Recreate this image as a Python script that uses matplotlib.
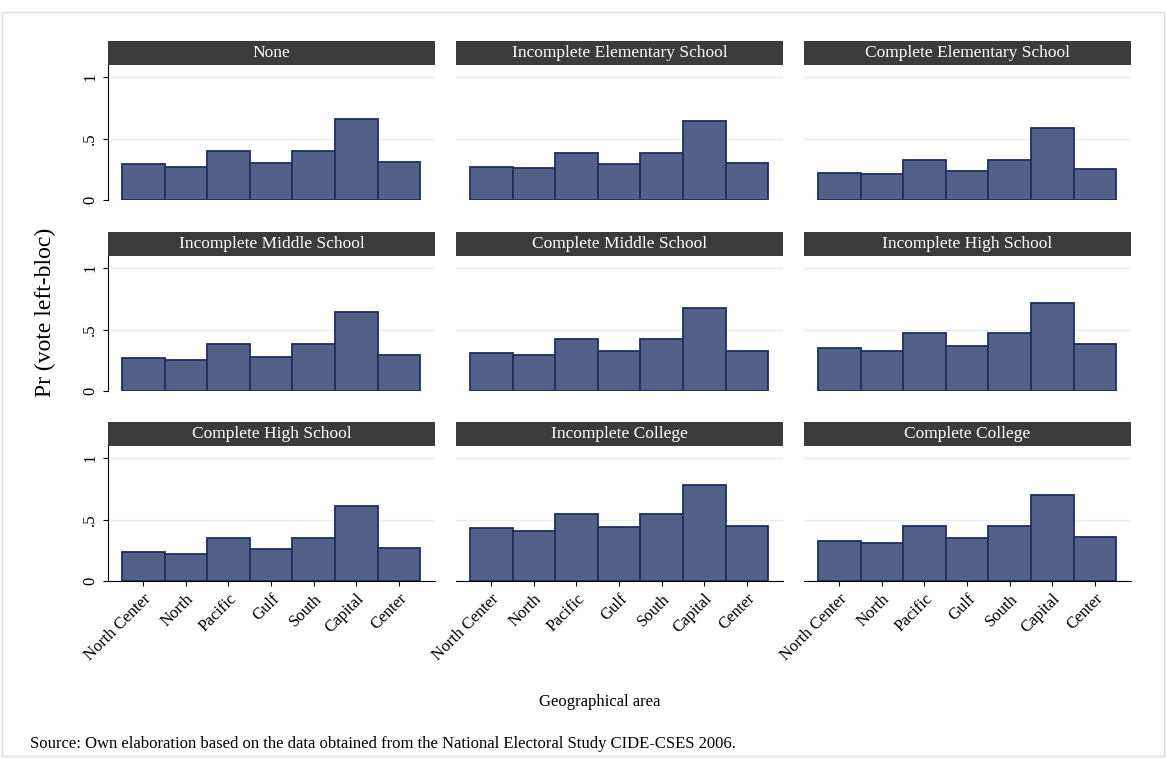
import numpy as np
import matplotlib.pyplot as plt
from matplotlib.patches import Rectangle

plt.rcParams['font.family'] = ['Liberation Serif', 'DejaVu Serif']

areas = ["North Center", "North", "Pacific", "Gulf", "South", "Capital", "Center"]
titles = ["None", "Incomplete Elementary School", "Complete Elementary School",
          "Incomplete Middle School", "Complete Middle School", "Incomplete High School",
          "Complete High School", "Incomplete College", "Complete College"]
values = [
    [0.29, 0.27, 0.40, 0.30, 0.40, 0.66, 0.31],
    [0.27, 0.26, 0.38, 0.29, 0.38, 0.64, 0.30],
    [0.22, 0.21, 0.33, 0.24, 0.33, 0.59, 0.25],
    [0.27, 0.25, 0.38, 0.28, 0.38, 0.64, 0.29],
    [0.31, 0.29, 0.42, 0.33, 0.42, 0.68, 0.33],
    [0.35, 0.33, 0.47, 0.37, 0.47, 0.72, 0.38],
    [0.24, 0.22, 0.35, 0.26, 0.35, 0.61, 0.27],
    [0.43, 0.41, 0.55, 0.44, 0.55, 0.78, 0.45],
    [0.33, 0.31, 0.45, 0.35, 0.45, 0.70, 0.36],
]

W, H = 1166, 758
fig = plt.figure(figsize=(W / 100, H / 100), dpi=100)
fig.patches.append(Rectangle((2 / W, 2 / H), 1 - 4 / W, 1 - 14 / H, transform=fig.transFigure,
                             fill=False, edgecolor="#dddddd", lw=1))

col_x = [108, 456, 804]
pw = 327
row_top = [65, 256, 446]
ph = 135
hh = 24

for k, (t, v) in enumerate(zip(titles, values)):
    r, c = divmod(k, 3)
    x0, y0 = col_x[c], row_top[r]
    ax = fig.add_axes([x0 / W, 1 - (y0 + ph) / H, pw / W, ph / H])
    for g in [0, 0.5, 1]:
        ax.axhline(g, color="#e6eef0", lw=1, zorder=0)
    ax.bar(range(7), v, width=1, color="#536189", edgecolor="#1f2f5c", lw=1.3, zorder=2)
    ax.set_xlim(-0.83, 6.85)
    ax.set_ylim(0, 1.1)
    for s in ["top", "right"]:
        ax.spines[s].set_visible(False)
    ax.spines["bottom"].set_visible(r == 2)
    ax.spines["left"].set_visible(c == 0)
    if c == 0:
        ax.set_yticks([0, 0.5, 1])
        ax.set_yticklabels(["0", ".5", "1"], rotation=90, va="center", fontsize=12)
    else:
        ax.set_yticks([])
    if r == 2:
        ax.set_xticks(range(7))
        ax.set_xticklabels(areas, rotation=45, ha="right", rotation_mode="anchor", fontsize=12)
    else:
        ax.set_xticks([])
    fig.patches.append(Rectangle((x0 / W, 1 - y0 / H), pw / W, hh / H, transform=fig.transFigure,
                                 facecolor="#3b3b3b", edgecolor="none"))
    fig.text((x0 + pw / 2) / W, 1 - (y0 - hh / 2) / H, t, color="white", fontsize=12.5,
             ha="center", va="center")

fig.text(45 / W, 1 - 312 / H, "Pr (vote left-bloc)", rotation=90, fontsize=17, ha="center", va="center")
fig.text(600 / W, 1 - 702 / H, "Geographical area", fontsize=12, ha="center", va="center")
fig.text(30 / W, 1 - 744 / H, "Source: Own elaboration based on the data obtained from the National Electoral Study CIDE-CSES 2006.",
         fontsize=12, ha="left", va="center")

fig.savefig("out.png", dpi=100)
